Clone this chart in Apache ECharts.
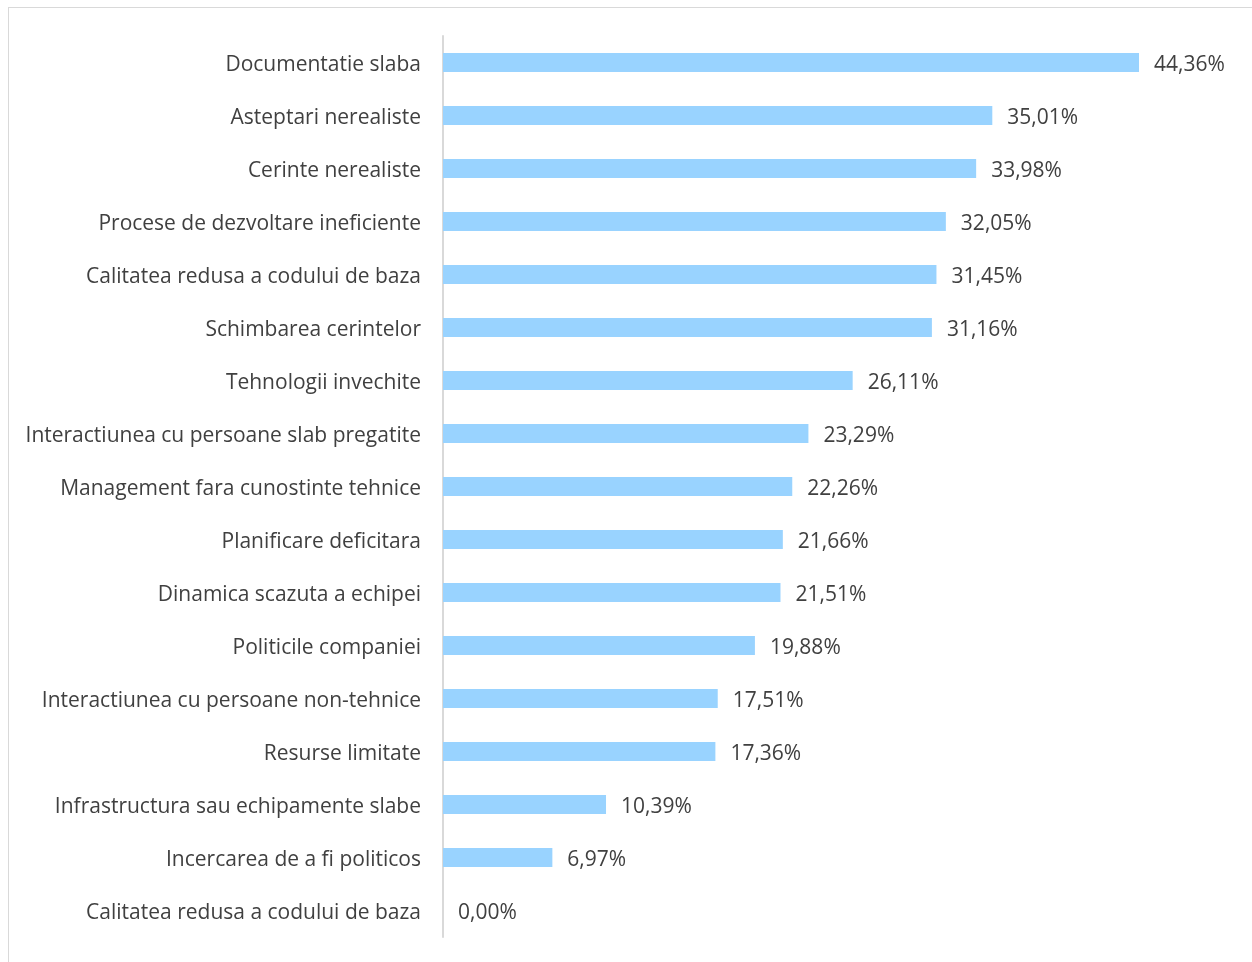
<!DOCTYPE html>
<html>
<head>
<meta charset="utf-8">
<script src="https://cdn.jsdelivr.net/npm/echarts@6/dist/echarts.min.js"></script>
<style>
html,body{margin:0;padding:0;background:#fff;}
#frame{position:absolute;left:8px;top:7px;width:1260px;height:980px;border:1px solid #D9D9D9;box-sizing:border-box;}
#chart{position:absolute;left:0;top:0;width:1252px;height:962px;}
</style>
</head>
<body>
<div id="frame"></div>
<div id="chart"></div>
<script>
const categories = [
  "Documentatie slaba",
  "Asteptari nerealiste",
  "Cerinte nerealiste",
  "Procese de dezvoltare ineficiente",
  "Calitatea redusa a codului de baza",
  "Schimbarea cerintelor",
  "Tehnologii invechite",
  "Interactiunea cu persoane slab pregatite",
  "Management fara cunostinte tehnice",
  "Planificare deficitara",
  "Dinamica scazuta a echipei",
  "Politicile companiei",
  "Interactiunea cu persoane non-tehnice",
  "Resurse limitate",
  "Infrastructura sau echipamente slabe",
  "Incercarea de a fi politicos",
  "Calitatea redusa a codului de baza "
];
const values = [44.36, 35.01, 33.98, 32.05, 31.45, 31.16, 26.11, 23.29, 22.26, 21.66, 21.51, 19.88, 17.51, 17.36, 10.39, 6.97, 0.00];

const FONT = 'Open Sans, Lato, sans-serif';
const chart = echarts.init(document.getElementById('chart'));
chart.setOption({
  animation: false,
  grid: {left: 443, top: 36, width: 784.5, height: 901},
  xAxis: {
    type: 'value', min: 0, max: 50, show: false
  },
  yAxis: {
    type: 'category', inverse: true, data: categories,
    axisLine: {show: true, lineStyle: {color: '#D9D9D9', width: 2}},
    axisTick: {show: false},
    axisLabel: {color: '#404040', fontSize: 21, fontFamily: FONT, margin: 22,
      formatter: v => '{t|' + v.trim() + '}',
      rich: {t: {color: '#404040', fontSize: 21, fontFamily: FONT, padding: [5, 0, 0, 0]}}}
  },
  series: [{
    type: 'bar', data: values, barWidth: 19,
    itemStyle: {color: '#99D3FF'},
    label: {
      show: true, position: 'right', distance: 15, offset: [0, 3],
      color: '#404040', fontSize: 21, fontFamily: FONT,
      formatter: p => p.value.toFixed(2).replace('.', ',') + '%'
    }
  }]
});
</script>
</body>
</html>
